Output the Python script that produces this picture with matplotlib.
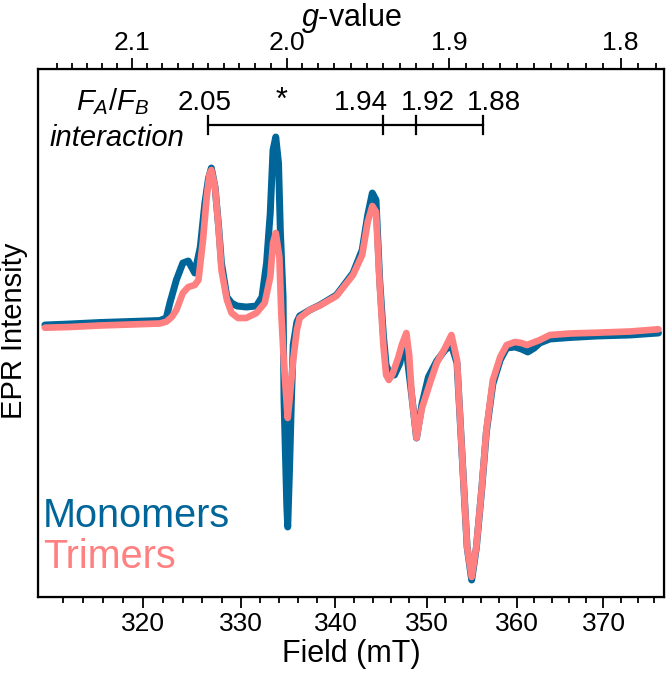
import numpy as np
import matplotlib
matplotlib.use("Agg")
import matplotlib.pyplot as plt
from matplotlib.ticker import FixedLocator, FuncFormatter, NullFormatter
import matplotlib.transforms as mtransforms

plt.rcParams['font.family'] = ['Liberation Sans', 'DejaVu Sans']
plt.rcParams['mathtext.fontset'] = 'custom'
plt.rcParams['mathtext.rm'] = 'Liberation Sans'
plt.rcParams['mathtext.it'] = 'Liberation Sans:italic'

# field (mT) and intensity (arb. units)
mono_field = [310.22, 312.66, 315.66, 318.70, 321.68, 322.33, 322.70, 323.36, 324.02, 324.58,
              325.24, 325.81, 326.28, 326.66, 326.95, 327.33, 327.71, 327.99, 328.56, 329.04,
              329.61, 330.57, 331.63, 332.21, 332.69, 333.08, 333.37, 333.66, 333.95, 334.14,
              334.43, 334.53, 334.82, 334.92, 335.11, 335.31, 335.50, 335.89, 336.18, 337.26,
              338.34, 340.11, 341.89, 342.88, 343.48, 343.98, 344.38, 344.78, 345.18, 345.48,
              345.88, 346.39, 346.99, 347.39, 347.69, 348.30, 348.81, 349.41, 350.12, 351.04,
              351.96, 352.67, 353.29, 353.60, 354.01, 354.42, 354.93, 355.45, 356.07, 356.58,
              357.31, 358.14, 358.87, 359.81, 360.54, 361.27, 362.01, 362.64, 363.80, 366.13,
              369.22, 373.10, 376.47]
mono_int = [0.0, 0.1, 0.25, 0.35, 0.45, 0.7, 2.2, 4.5, 6.2, 6.4,
            5.2, 7.8, 12.2, 14.7, 15.7, 13.8, 9.7, 6.2, 2.8, 2.2,
            1.9, 1.8, 1.9, 2.8, 6.2, 11.2, 17.5, 18.8, 16.2, 9.5,
            2.8, -7.5, -18.0, -20.2, -14.5, -7.5, -2.0, 0.3, 0.9, 1.5,
            2.0, 3.0, 5.2, 7.5, 11.0, 13.2, 12.5, 4.5, -1.0, -4.0,
            -4.9, -5.0, -3.8, -1.7, -2.5, -7.2, -11.3, -7.9, -5.2, -3.6,
            -2.5, -2.0, -3.8, -8.8, -15.5, -22.2, -25.5, -22.3, -16.3, -10.7,
            -5.9, -3.5, -2.3, -2.2, -2.4, -2.7, -2.3, -1.8, -1.4, -1.25,
            -1.1, -1.0, -0.8]

tri_field = [310.22, 312.66, 315.66, 318.70, 321.68, 322.33, 322.89, 323.36, 324.02, 324.58,
             325.24, 325.62, 326.09, 326.47, 326.76, 326.95, 327.33, 327.71, 327.99, 328.56,
             329.04, 329.71, 330.57, 331.63, 332.50, 333.08, 333.37, 333.66, 334.04, 334.24,
             334.53, 334.82, 334.92, 335.11, 335.50, 335.89, 336.18, 337.26, 338.34, 340.11,
             341.89, 342.88, 343.48, 343.98, 344.38, 344.78, 345.18, 345.48, 345.78, 346.18,
             346.79, 347.19, 347.69, 348.00, 348.30, 348.81, 349.41, 350.33, 351.04, 351.96,
             352.67, 353.29, 353.60, 354.01, 354.42, 354.93, 355.45, 356.07, 356.58, 357.31,
             358.14, 358.87, 359.81, 360.54, 361.17, 361.90, 362.64, 363.80, 366.13, 369.22,
             373.10, 376.47]
tri_int = [-0.27, -0.2, -0.05, 0.05, 0.15, 0.33, 0.8, 1.5, 3.2, 3.8,
           4.0, 4.5, 8.5, 12.8, 15.1, 15.5, 13.8, 9.5, 5.5, 2.5,
           1.2, 0.7, 0.7, 1.2, 2.2, 4.8, 8.2, 9.2, 6.8, 1.2,
           -4.0, -8.0, -9.3, -7.5, -3.5, -0.5, 0.7, 1.5, 1.95, 2.9,
           5.0, 7.0, 10.3, 11.9, 11.3, 4.0, -2.0, -5.0, -5.5, -4.9,
           -3.3, -2.0, -0.8, -3.0, -7.2, -11.3, -8.3, -5.7, -3.8, -2.3,
           -1.0, -3.5, -8.8, -15.5, -22.2, -25.2, -22.2, -16.2, -10.5, -5.5,
           -3.2, -2.0, -1.7, -1.8, -2.0, -1.75, -1.5, -1.0, -0.85, -0.77,
           -0.65, -0.43]

field_major = [320, 330, 340, 350, 360, 370]
field_minor = list(range(312, 377, 2))
g_major = [2.1, 2.0, 1.9, 1.8]
g_minor = [round(1.78 + 0.01 * i, 2) for i in range(38)]
bar_g = [2.05, 1.94, 1.92, 1.88]
bar_labels = ['2.05', '1.94', '1.92', '1.88']

C = 669.6  # B(mT) * g  (9.37 GHz)
xmin, xmax = 309.55, 377.13

blue = '#006699'
pink = '#FF8080'

fig = plt.figure(figsize=(6.68, 6.74), dpi=100)
ax = fig.add_axes([38 / 668, 1 - 597 / 674, 626 / 668, 528 / 674])

ax.plot(mono_field, mono_int, color=blue, lw=5, solid_joinstyle='round', solid_capstyle='round')
ax.plot(tri_field, tri_int, color=pink, lw=4.8, solid_joinstyle='round', solid_capstyle='round')

ax.set_xscale('log')
ax.set_xlim(xmin, xmax)
ax.set_ylim(-27.2, 25.6)
ax.set_yticks([])

ax.xaxis.set_major_locator(FixedLocator(field_major))
ax.xaxis.set_minor_locator(FixedLocator(field_minor))
ax.xaxis.set_major_formatter(FuncFormatter(lambda v, p: f'{v:.0f}'))
ax.xaxis.set_minor_formatter(NullFormatter())
ax.tick_params(axis='x', which='major', length=8, width=1.3, labelsize=19, pad=3)
ax.tick_params(axis='x', which='minor', length=4.5, width=1.3)
for s in ax.spines.values():
    s.set_linewidth(1.6)
ax.set_xlabel('Field (mT)', fontsize=22, labelpad=2)

ax2 = ax.twiny()
ax2.set_xscale('log')
ax2.set_xlim(xmin, xmax)
ax2.xaxis.set_major_locator(FixedLocator([C / g for g in g_major]))
ax2.xaxis.set_minor_locator(FixedLocator([C / g for g in g_minor]))
ax2.xaxis.set_major_formatter(FuncFormatter(lambda v, p: f'{C / v:.1f}'))
ax2.xaxis.set_minor_formatter(NullFormatter())
ax2.tick_params(axis='x', which='major', length=8, width=1.3, labelsize=19, pad=2)
ax2.tick_params(axis='x', which='minor', length=4.5, width=1.3)
ax2.set_yticks([])
ax2.set_xlabel(r'$g$-value', fontsize=22, labelpad=4)

fig.text(14 / 668, 1 - 331 / 674, 'EPR Intensity', rotation=90, fontsize=21,
         ha='center', va='center')

# F_A/F_B interaction bar
trans = mtransforms.blended_transform_factory(ax.transData, ax.transAxes)
bar_y = (597 - 125) / 528
tick_h = 9 / 528
bar_B = [C / g for g in bar_g]
ax.plot([bar_B[0], bar_B[-1]], [bar_y, bar_y], color='black', lw=1.6, transform=trans)
for b in bar_B:
    ax.plot([b, b], [bar_y - tick_h, bar_y + tick_h], color='black', lw=1.6, transform=trans)

label_y = (597 - 110) / 528
label_x = [(205 - 38) / 626, (361 - 38) / 626, (428 - 38) / 626, (494 - 38) / 626]
for lx, lab in zip(label_x, bar_labels):
    ax.text(lx, label_y, lab, transform=ax.transAxes, fontsize=20, ha='center', va='baseline')
ax.text((282 - 38) / 626, (597 - 109) / 528, '*', transform=ax.transAxes, fontsize=22,
        ha='center', va='baseline')
ax.text((112 - 38) / 626, label_y, r'$F_A/F_B$', transform=ax.transAxes, fontsize=21,
        ha='center', va='baseline')
ax.text((117 - 38) / 626, (597 - 146) / 528, 'interaction', transform=ax.transAxes,
        fontsize=21, style='italic', ha='center', va='baseline')

ax.text(0.008, (597 - 527) / 528, 'Monomers', transform=ax.transAxes, fontsize=28.5,
        color=blue, ha='left', va='baseline')
ax.text(0.008, (597 - 568) / 528, 'Trimers', transform=ax.transAxes, fontsize=28.5,
        color=pink, ha='left', va='baseline')

fig.savefig('out.png', dpi=100)
